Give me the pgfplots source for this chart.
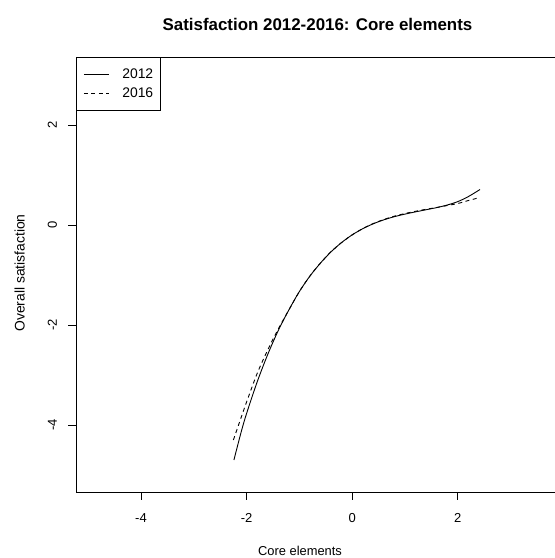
\documentclass[border=0pt]{standalone}
\usepackage{pgfplots}
\pgfplotsset{compat=1.18}
\usepackage{fontspec}
\setmainfont{Liberation Sans}
\begin{document}
\begin{tikzpicture}[x=1bp,y=1bp]
\begin{axis}[
  at={(76bp,66bp)}, anchor=south west,
  scale only axis, width=479bp, height=435bp,
  xmin=-5.23, xmax=3.84, ymin=-5.34, ymax=3.36,
  axis x line=box, axis y line*=left,
  axis line style={line width=0.8bp, black},
  xtick={-4,-2,0,2}, ytick={-4,-2,0,2},
  tick align=outside, major tick length=8bp,
  tick style={line width=0.8bp, black},
  xtick pos=bottom, ytick pos=left,
  /pgf/number format/assume math mode=true,
  xticklabel style={font=\fontsize{13bp}{15bp}\selectfont, anchor=base, inner sep=0pt, yshift=-22.7bp},
  yticklabel style={font=\fontsize{13bp}{15bp}\selectfont, anchor=base, inner sep=0pt, rotate=90, yshift=11bp},
  legend style={at={(0,1)}, anchor=north west, draw=black, line width=0.8bp,
    font=\fontsize{13.9bp}{16bp}\selectfont,
    inner xsep=7bp, inner ysep=11.5bp, row sep=7.3bp, column sep=13bp,
    nodes={inner sep=0pt}},
  legend image code/.code={\draw[#1, line width=0.9bp] (5bp,0bp) -- (30bp,0bp);},
  legend cell align=left,
  clip=false,
]
\addplot[black, line width=0.9bp, smooth] coordinates {
(-2.24,-4.70) (-2.1,-4.13) (-2.0,-3.77) (-1.8,-3.14) (-1.6,-2.59) (-1.4,-2.11)
(-1.2,-1.70) (-1.0,-1.33) (-0.8,-1.02) (-0.6,-0.76) (-0.4,-0.535) (-0.2,-0.35)
(0,-0.197) (0.2,-0.074) (0.4,0.025) (0.6,0.104) (0.8,0.167) (1.0,0.218)
(1.2,0.263) (1.4,0.305) (1.6,0.348) (1.8,0.400) (2.0,0.468) (2.2,0.569) (2.42,0.71)
};
\addlegendentry{2012}
\addplot[black, line width=0.9bp, smooth, dash pattern=on 4bp off 3.5bp] coordinates {
(-2.25,-4.30) (-2.1,-3.84) (-2.0,-3.54) (-1.8,-2.97) (-1.6,-2.50) (-1.4,-2.08)
(-1.2,-1.70) (-1.0,-1.33) (-0.8,-1.02) (-0.6,-0.76) (-0.4,-0.535) (-0.2,-0.35)
(0,-0.197) (0.2,-0.072) (0.4,0.03) (0.6,0.11) (0.8,0.177) (1.0,0.23)
(1.2,0.275) (1.4,0.315) (1.6,0.35) (1.8,0.39) (2.0,0.43) (2.2,0.49) (2.42,0.55)
};
\addlegendentry{2016}
\end{axis}
\node[anchor=base, inner sep=0pt, font=\fontsize{16.9bp}{19bp}\selectfont\bfseries] at (317.5bp,527bp) {Satisfaction 2012-2016: Core elements};
\node[anchor=base, inner sep=0pt, font=\fontsize{12.9bp}{15bp}\selectfont] at (300bp,2.5bp) {Core elements};
\node[anchor=base, inner sep=0pt, rotate=90, font=\fontsize{13.9bp}{16bp}\selectfont] at (24.5bp,285bp) {Overall satisfaction};
\pgfresetboundingbox
\path[use as bounding box] (0bp,0bp) rectangle (555bp,558bp);
\end{tikzpicture}
\end{document}
